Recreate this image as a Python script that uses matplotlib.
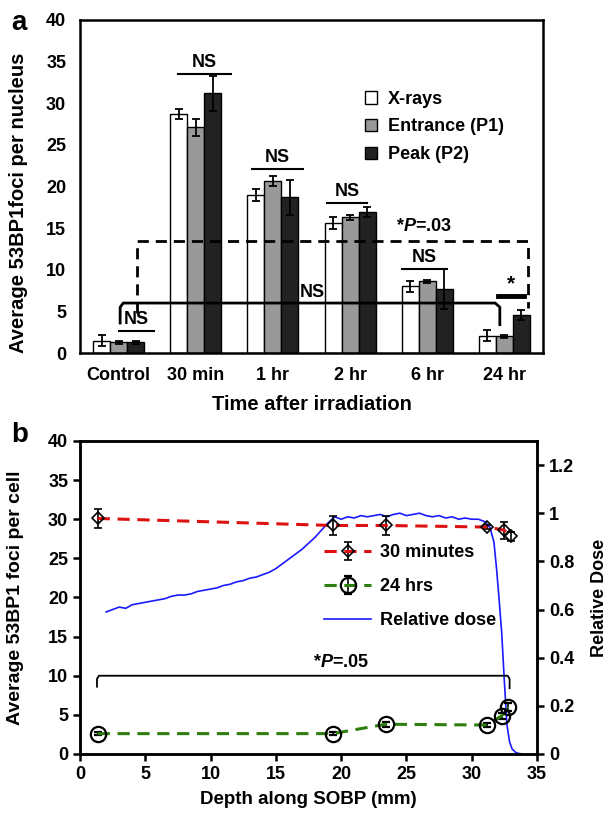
import matplotlib
matplotlib.use("Agg")
import matplotlib.pyplot as plt
import numpy as np

plt.rcParams['font.family'] = ['Liberation Sans', 'DejaVu Sans']
plt.rcParams['font.weight'] = 'bold'
plt.rcParams['axes.labelweight'] = 'bold'
plt.rcParams['mathtext.fontset'] = 'custom'
plt.rcParams['mathtext.it'] = 'Liberation Sans:bold:italic'
plt.rcParams['mathtext.rm'] = 'Liberation Sans:bold'
plt.rcParams['mathtext.bf'] = 'Liberation Sans:bold'

# ---------------- Panel a data ----------------
categories = ["Control", "30 min", "1 hr", "2 hr", "6 hr", "24 hr"]
xray = [1.5, 28.7, 19.0, 15.6, 8.0, 2.1]
xray_err = [0.7, 0.6, 0.7, 0.7, 0.7, 0.7]
entrance = [1.3, 27.1, 20.7, 16.3, 8.6, 2.0]
entrance_err = [0.2, 1.0, 0.6, 0.3, 0.2, 0.2]
peak = [1.3, 31.2, 18.7, 16.9, 7.7, 4.6]
peak_err = [0.2, 2.1, 2.1, 0.6, 2.4, 0.6]
series_labels = ["X-rays", "Entrance (P1)", "Peak (P2)"]

# ---------------- Panel b data ----------------
depth_pts = [1.35, 19.35, 23.4, 31.2, 32.5, 33.0]
foci_30min = [30.1, 29.2, 29.2, 29.0, 28.6, 27.8]
err_30min = [1.2, 1.2, 1.2, 0.3, 1.1, 0.6]
depth_24 = [1.35, 19.35, 23.4, 31.2, 32.3, 32.8]
foci_24h = [2.6, 2.6, 3.8, 3.7, 4.9, 6.0]
err_24h = [0.2, 0.2, 0.3, 0.3, 0.4, 0.5]
dose_depth = [2.0, 2.5, 3.0, 3.5, 4.0, 4.5, 5.0, 5.5, 6.0, 6.5, 7.0, 7.5, 8.0, 8.5,
              9.0, 9.5, 10.0, 10.5, 11.0, 11.5, 12.0, 12.5, 13.0, 13.5, 14.0, 14.5,
              15.0, 15.5, 16.0, 16.5, 17.0, 17.5, 18.0, 18.5, 19.0, 19.5, 20.0, 20.5,
              21.0, 21.5, 22.0, 22.5, 23.0, 23.5, 24.0, 24.5, 25.0, 25.5, 26.0, 26.5,
              27.0, 27.5, 28.0, 28.5, 29.0, 29.5, 30.0, 30.5, 31.0, 31.4, 31.7, 31.9,
              32.1, 32.3, 32.5, 32.7, 32.9, 33.1, 33.4, 33.8]
rel_dose = [0.59, 0.60, 0.61, 0.605, 0.62, 0.625, 0.63, 0.635, 0.64, 0.645, 0.655, 0.66, 0.66, 0.665,
            0.675, 0.68, 0.685, 0.69, 0.70, 0.705, 0.715, 0.72, 0.73, 0.735, 0.745, 0.755,
            0.77, 0.79, 0.81, 0.83, 0.85, 0.875, 0.90, 0.93, 0.96, 0.985, 0.975, 0.985,
            0.98, 0.99, 0.985, 0.99, 0.995, 0.985, 0.995, 1.0, 0.99, 0.995, 1.0, 0.99,
            0.985, 0.99, 0.98, 0.985, 0.975, 0.98, 0.975, 0.975, 0.965, 0.94, 0.88, 0.77,
            0.64, 0.50, 0.30, 0.12, 0.05, 0.02, 0.005, 0.0]

fig = plt.figure(figsize=(6.09, 8.13), dpi=100)

# ================= Panel a =================
ax = fig.add_axes([0.1314, 0.5658, 0.7603, 0.4096])
x = np.arange(len(categories))
w = 0.22
ekw = dict(ecolor='black', elinewidth=1.3, capsize=3, capthick=1.3)
ax.bar(x - w, xray, w, yerr=xray_err, color='white', edgecolor='black', lw=1.0, error_kw=ekw, label=series_labels[0])
ax.bar(x, entrance, w, yerr=entrance_err, color='#999999', edgecolor='black', lw=1.0, error_kw=ekw, label=series_labels[1])
ax.bar(x + w, peak, w, yerr=peak_err, color='#222222', edgecolor='black', lw=1.0, error_kw=ekw, label=series_labels[2])
ax.set_xlim(-0.5, 5.5)
ax.set_ylim(0, 40)
ax.set_yticks(range(0, 41, 5))
ax.set_xticks(x)
ax.set_xticklabels(categories)
ax.tick_params(length=0, labelsize=13, pad=10)
for s in ax.spines.values():
    s.set_linewidth(1.8)
ax.set_ylabel("Average 53BP1foci per nucleus", fontsize=14.5)
ax.yaxis.set_label_coords(-0.112, 0.45)
ax.set_xlabel("Time after irradiation", fontsize=14.5, labelpad=8)

# NS annotations
ns_bars = [(0.0, 0.46, 2.6), (0.77, 1.46, 33.5), (1.73, 2.39, 22.1), (2.70, 3.22, 18.0), (3.67, 4.26, 10.1)]
for x0, x1, yy in ns_bars:
    ax.plot([x0, x1], [yy, yy], color='black', lw=1.5)
    ax.text((x0 + x1) / 2, yy + 0.4, "NS", ha='center', va='bottom', fontsize=13)
ax.plot([4.92, 5.25], [6.8, 6.8], color='black', lw=3.5)
ax.text(5.085, 7.2, "*", ha='center', va='bottom', fontsize=15)
# dashed bracket
ax.plot([0.24, 0.24, 5.31, 5.31], [4.8, 13.4, 13.4, 5.4], color='black', lw=2, ls=(0, (4, 2.5)))
ax.text(3.96, 14.2, r"*$\mathit{P}$=.03", ha='center', va='bottom', fontsize=13)
# solid bracket
ax.plot([0.02, 0.02, 0.06, 4.88, 4.94, 4.94], [3.6, 5.5, 6.0, 6.0, 5.5, 3.4], color='black', lw=2)
ax.text(2.51, 6.3, "NS", ha='center', va='bottom', fontsize=13)

ax.legend(loc='upper left', bbox_to_anchor=(0.595, 0.815), frameon=False, fontsize=13,
          handlelength=0.7, handleheight=0.7, handletextpad=0.6, labelspacing=0.6, borderpad=0)

fig.text(0.018, 0.972, "a", fontsize=20, fontweight='bold', va='center')

# ================= Panel b =================
bx = fig.add_axes([0.1314, 0.0726, 0.7504, 0.3850])
bx2 = bx.twinx()
bx.set_zorder(bx2.get_zorder() + 1)
bx.patch.set_visible(False)
l3, = bx2.plot(dose_depth, rel_dose, color='#1a1aff', lw=1.2, label="Relative dose")
bx2.set_ylim(0, 1.3)
bx2.set_yticks([0, 0.2, 0.4, 0.6, 0.8, 1.0, 1.2])
bx2.set_yticklabels(["0", "0.2", "0.4", "0.6", "0.8", "1", "1.2"])
bx2.set_ylabel("Relative Dose", fontsize=13, labelpad=12)

l1 = bx.errorbar(depth_pts, foci_30min, yerr=err_30min, color='#dd1111', ls=(0, (4, 2.5)), lw=2.2,
                 marker='D', ms=6, mfc='none', mec='black', mew=1.2, ecolor='black', elinewidth=1.2,
                 capsize=3, capthick=1.2, label="30 minutes")
l2 = bx.errorbar(depth_24, foci_24h, yerr=err_24h, color='#2e7d0f', ls=(0, (4, 2.5)), lw=2.2,
                 marker='o', ms=11, mfc='none', mec='black', mew=1.6, ecolor='black', elinewidth=1.2,
                 capsize=3, capthick=1.2, label="24 hrs")
bx.set_xlim(0, 35)
bx.set_ylim(0, 40)
bx.set_xticks(range(0, 36, 5))
bx.set_yticks(range(0, 41, 5))
bx.tick_params(direction='out', length=5, width=1.8, labelsize=13)
bx2.tick_params(direction='out', length=5, width=1.8, labelsize=13)
for a_ in (bx, bx2):
    for s in a_.spines.values():
        s.set_linewidth(1.8)
bx.set_ylabel("Average 53BP1 foci per cell", fontsize=14)
bx.yaxis.set_label_coords(-0.122, 0.5)
bx.set_xlabel("Depth along SOBP (mm)", fontsize=13.5, labelpad=6)

# bracket *P=.05
bx.plot([1.3, 1.3, 1.45, 32.75, 32.9, 32.9], [8.6, 9.6, 10.0, 10.0, 9.6, 8.4], color='black', lw=1.3)
bx.text(20.0, 10.6, r"*$\mathit{P}$=.05", ha='center', va='bottom', fontsize=13)

bx.legend([l1, l2, l3], ["30 minutes", "24 hrs", "Relative dose"], loc='upper left',
          bbox_to_anchor=(0.515, 0.70), frameon=False, fontsize=13, handlelength=2.6,
          handletextpad=0.5, labelspacing=0.95, borderpad=0)

fig.text(0.018, 0.465, "b", fontsize=20, fontweight='bold', va='center')

fig.savefig("out.png", dpi=100)
